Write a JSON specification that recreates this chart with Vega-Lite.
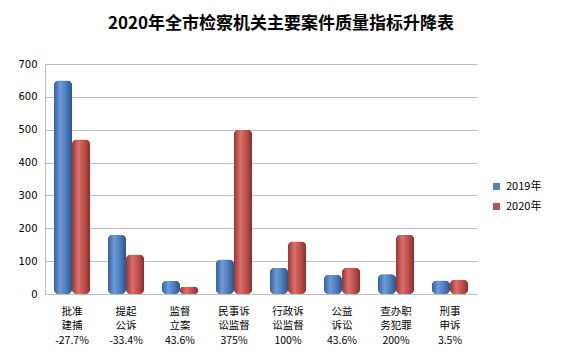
{
  "$schema": "https://vega.github.io/schema/vega-lite/v6.json",
  "autosize": {"type": "none"},
  "width": 432,
  "height": 230,
  "padding": {"left": 45, "top": 64, "right": 86, "bottom": 65},
  "background": "white",
  "title": {
    "text": "2020年全市检察机关主要案件质量指标升降表",
    "font": "Noto Sans CJK SC",
    "fontSize": 17,
    "fontWeight": "bold",
    "color": "#000000",
    "anchor": "middle",
    "dx": 20,
    "offset": 26
  },
  "data": {
    "values": [
      {"category": "批准|建捕|-27.7%", "year": "2019年", "value": 650},
      {"category": "批准|建捕|-27.7%", "year": "2020年", "value": 470},
      {"category": "提起|公诉|-33.4%", "year": "2019年", "value": 180},
      {"category": "提起|公诉|-33.4%", "year": "2020年", "value": 120},
      {"category": "监督|立案|43.6%", "year": "2019年", "value": 40},
      {"category": "监督|立案|43.6%", "year": "2020年", "value": 22},
      {"category": "民事诉|讼监督|375%", "year": "2019年", "value": 105},
      {"category": "民事诉|讼监督|375%", "year": "2020年", "value": 500},
      {"category": "行政诉|讼监督|100%", "year": "2019年", "value": 80},
      {"category": "行政诉|讼监督|100%", "year": "2020年", "value": 160},
      {"category": "公益|诉讼|43.6%", "year": "2019年", "value": 58},
      {"category": "公益|诉讼|43.6%", "year": "2020年", "value": 80},
      {"category": "查办职|务犯罪|200%", "year": "2019年", "value": 60},
      {"category": "查办职|务犯罪|200%", "year": "2020年", "value": 180},
      {"category": "刑事|申诉|3.5%", "year": "2019年", "value": 41},
      {"category": "刑事|申诉|3.5%", "year": "2020年", "value": 43}
    ]
  },
  "encoding": {
    "x": {
      "field": "category",
      "type": "nominal",
      "sort": null,
      "scale": {"paddingInner": 0.33, "paddingOuter": 0.165},
      "axis": {
        "title": null,
        "labelAngle": 0,
        "labelExpr": "split(datum.value, '|')",
        "labelFont": "Noto Sans CJK SC",
        "labelFontSize": 10.5,
        "labelLineHeight": 14.5,
        "labelColor": "#000000",
        "labelPadding": 12,
        "ticks": false,
        "domainColor": "#bfbfbf"
      }
    },
    "xOffset": {"field": "year", "type": "nominal", "scale": {"paddingInner": 0}},
    "y": {
      "field": "value",
      "type": "quantitative",
      "scale": {"domain": [0, 700], "nice": false},
      "axis": {
        "title": null,
        "values": [0, 100, 200, 300, 400, 500, 600, 700],
        "labelFont": "DejaVu Sans",
        "labelFontSize": 10,
        "labelColor": "#000000",
        "labelPadding": 8,
        "ticks": false,
        "domainColor": "#bfbfbf",
        "gridColor": "#bfbfbf",
        "gridWidth": 1.2
      }
    }
  },
  "layer": [
    {
      "mark": {"type": "bar", "cornerRadius": 5},
      "encoding": {
        "color": {
          "field": "year",
          "type": "nominal",
          "scale": {"range": ["#4F81BD", "#C0504D"]},
          "legend": {
            "title": null,
            "orient": "none",
            "legendX": 446,
            "legendY": 117,
            "symbolType": "square",
            "symbolSize": 50,
            "labelFont": "Noto Sans CJK SC",
            "labelFontSize": 11,
            "labelColor": "#000000",
            "rowPadding": 8,
            "padding": 0
          }
        }
      }
    },
    {
      "transform": [{"filter": "datum.year === '2019年'"}],
      "mark": {
        "type": "bar",
        "cornerRadius": 5,
        "fill": {
          "gradient": "linear", "x1": 0, "y1": 0, "x2": 1, "y2": 0,
          "stops": [
            {"offset": 0, "color": "#35609a"},
            {"offset": 0.35, "color": "#6f9bd6"},
            {"offset": 0.65, "color": "#4e80c0"},
            {"offset": 1, "color": "#2d5486"}
          ]
        }
      }
    },
    {
      "transform": [{"filter": "datum.year === '2020年'"}],
      "mark": {
        "type": "bar",
        "cornerRadius": 5,
        "fill": {
          "gradient": "linear", "x1": 0, "y1": 0, "x2": 1, "y2": 0,
          "stops": [
            {"offset": 0, "color": "#963634"},
            {"offset": 0.35, "color": "#d9706c"},
            {"offset": 0.65, "color": "#c2514d"},
            {"offset": 1, "color": "#8a2f2c"}
          ]
        }
      }
    }
  ],
  "config": {"view": {"stroke": null}}
}
